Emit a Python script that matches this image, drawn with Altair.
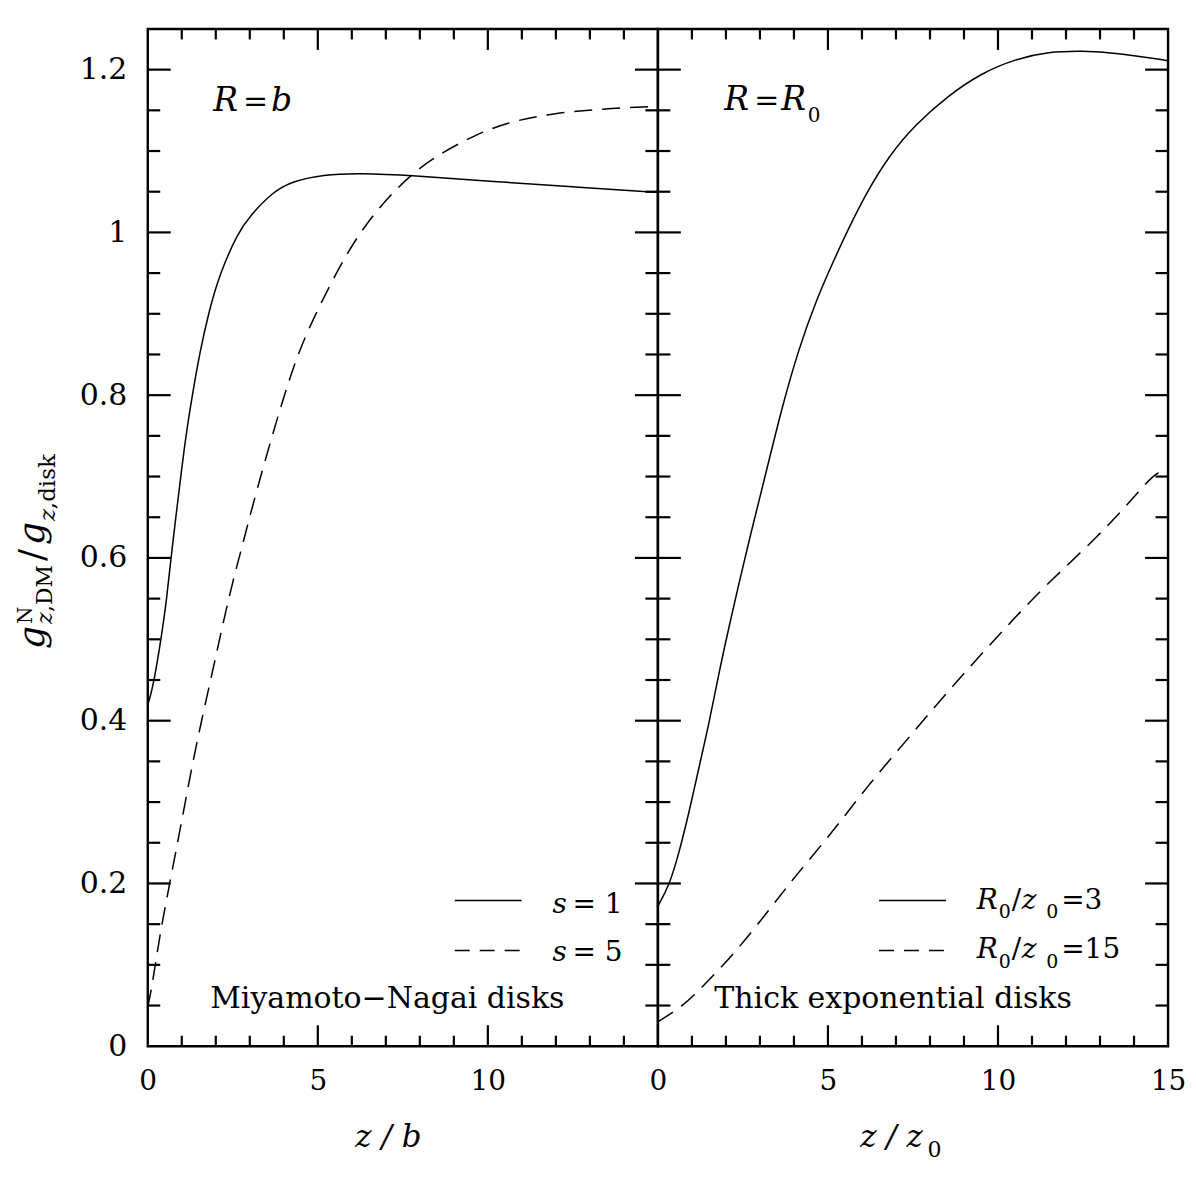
import altair as alt
import pandas as pd

FONT = "DejaVu Serif"

# left panel: Miyamoto-Nagai disks at R = b
mn_x_s1 = [0, 0.07, 0.19, 0.39, 0.56, 0.68, 0.97, 1.12, 1.31, 1.52, 1.78, 2.12, 2.66, 3.0, 3.68,
           4.27, 5.15, 6.22, 7.78, 10.03, 12.47, 15]
mn_y_s1 = [0.42, 0.429, 0.45, 0.50, 0.55, 0.60, 0.70, 0.75, 0.80, 0.85, 0.90, 0.95, 1.0, 1.02, 1.05,
           1.063, 1.071, 1.073, 1.070, 1.063, 1.056, 1.049]
mn_x_s5 = [0, 0.12, 0.37, 0.71, 1.05, 1.34, 1.68, 2.03, 2.37, 2.76, 3.20, 3.78, 4.37, 4.95, 5.44,
           6.03, 6.81, 7.78, 8.57, 9.54, 10.52, 11.98, 13.45, 15]
mn_y_s5 = [0.048, 0.072, 0.141, 0.214, 0.288, 0.353, 0.419, 0.484, 0.550, 0.612, 0.683, 0.768, 0.848,
           0.901, 0.942, 0.987, 1.032, 1.073, 1.096, 1.118, 1.135, 1.147, 1.152, 1.155]

# right panel: thick exponential disks at R = R0
te_x_r3 = [0, 0.34, 0.63, 0.92, 1.22, 1.51, 1.80, 2.10, 2.39, 2.69, 3.18, 3.66, 4.15, 4.64, 5.13,
           5.62, 6.11, 6.79, 7.58, 8.56, 9.53, 10.51, 11.49, 12.47, 13.45, 15]
te_y_r3 = [0.172, 0.198, 0.239, 0.288, 0.345, 0.398, 0.460, 0.517, 0.570, 0.623, 0.705, 0.787, 0.858,
           0.915, 0.962, 1.006, 1.047, 1.094, 1.133, 1.169, 1.196, 1.213, 1.222, 1.223, 1.221, 1.211]
te_x_r15 = [0, 0.73, 1.31, 2.30, 3.37, 4.06, 5.13, 6.11, 7.19, 8.26, 9.34, 10.41, 11.49, 12.86,
            14.04, 14.57, 15]
te_y_r15 = [0.030, 0.049, 0.073, 0.116, 0.173, 0.210, 0.263, 0.317, 0.370, 0.423, 0.474, 0.523,
            0.570, 0.623, 0.676, 0.703, 0.710]

# tick positions and labels
x_labels_left = [0, 5, 10]
x_labels_right = [0, 5, 10, 15]
y_labels = [0, 0.2, 0.4, 0.6, 0.8, 1, 1.2]
x_major = [5, 10]
x_minor = [1, 2, 3, 4, 6, 7, 8, 9, 11, 12, 13, 14]
y_major = [0.2, 0.4, 0.6, 0.8, 1.0, 1.2]
y_minor = [0.05, 0.1, 0.15, 0.25, 0.3, 0.35, 0.45, 0.5, 0.55, 0.65, 0.7, 0.75, 0.85, 0.9, 0.95,
           1.05, 1.1, 1.15]

W, H = 511, 1019
xs = alt.Scale(domain=[0, 15], nice=False, zero=False)
ys = alt.Scale(domain=[0, 1.25], nice=False, zero=False)
ONE = alt.Data(values=[{}])


def curve(xv, yv, dash, x_ax, y_ax):
    df = pd.DataFrame({"x": xv, "y": yv})
    kw = dict(color="black", strokeWidth=1.5, interpolate="basis")
    if dash:
        kw["strokeDash"] = dash
    return alt.Chart(df).mark_line(**kw).encode(
        x=alt.X("x:Q", scale=xs, axis=x_ax),
        y=alt.Y("y:Q", scale=ys, axis=y_ax),
    )


def ticks(x_ax, y_ax):
    out = []
    for vals, n in [(x_major, 21), (x_minor, 10.5)]:
        base = alt.Chart(pd.DataFrame({"v": vals})).mark_rule(color="black", strokeWidth=2.2)
        out.append(base.encode(x=alt.X("v:Q", scale=xs, axis=x_ax), y=alt.value(H), y2=alt.value(H - n)))
        out.append(base.encode(x=alt.X("v:Q", scale=xs, axis=x_ax), y=alt.value(0), y2=alt.value(n)))
    for vals, n in [(y_major, 23), (y_minor, 12.5)]:
        base = alt.Chart(pd.DataFrame({"v": vals})).mark_rule(color="black", strokeWidth=2.2)
        out.append(base.encode(y=alt.Y("v:Q", scale=ys, axis=y_ax), x=alt.value(0), x2=alt.value(n)))
        out.append(base.encode(y=alt.Y("v:Q", scale=ys, axis=y_ax), x=alt.value(W), x2=alt.value(W - n)))
    return out


def txt(s, x, y, size, italic=False, angle=0):
    kw = dict(text=s, font=FONT, fontSize=size, align="left", baseline="alphabetic", color="black")
    if italic:
        kw["fontStyle"] = "italic"
    if angle:
        kw["angle"] = angle
    return alt.Chart(ONE).mark_text(**kw).encode(x=alt.value(x), y=alt.value(y))


def sample(x1, x2, y, dash=None):
    kw = dict(color="black", strokeWidth=1.5)
    if dash:
        kw["strokeDash"] = dash
    return alt.Chart(ONE).mark_rule(**kw).encode(x=alt.value(x1), x2=alt.value(x2), y=alt.value(y))


def x_axis(values, title, tx):
    return alt.Axis(values=values, format="~g", ticks=False, tickSize=0, domain=False, grid=False,
                    labelFont=FONT, labelFontSize=28, labelColor="black", labelPadding=21,
                    labelFlush=False, labelOverlap=False,
                    title=title, titleFont=FONT, titleFontSize=31, titleFontStyle="italic",
                    titleFontWeight="normal", titleColor="black", titleX=tx, titleY=100,
                    titleBaseline="alphabetic")


y_axis = alt.Axis(values=y_labels, format="~g", ticks=False, tickSize=0, domain=False, grid=False,
                  labelFont=FONT, labelFontSize=30, labelColor="black", labelPadding=21,
                  labelFlush=False, labelOverlap=False, title=None)

x_axis_left = x_axis(x_labels_left, "z / b", 240.5)
x_axis_right = x_axis(x_labels_right, "z / z", 233.5)

DASH = [18, 10]

left = alt.layer(
    curve(mn_x_s1, mn_y_s1, None, x_axis_left, y_axis),
    curve(mn_x_s5, mn_y_s5, DASH, x_axis_left, y_axis),
    *ticks(x_axis_left, y_axis),
    txt("R", 65.5, 82, 33, italic=True),
    txt("=", 95.5, 82, 30),
    txt("b", 123.5, 82, 33, italic=True),
    sample(307.5, 374.5, 873),
    sample(307.5, 374.5, 923, [15, 10]),
    txt("s", 405.5, 886, 28, italic=True),
    txt("= 1", 425.5, 886, 28),
    txt("s", 405.5, 934, 28, italic=True),
    txt("= 5", 425.5, 934, 28),
    txt("Miyamoto\u2212Nagai disks", 62.5, 981, 30),
    # rotated y-axis title  g^N_{z,DM} / g_{z,disk}
    txt("g", -104, 621, 36, italic=True, angle=270),
    txt("N", -116, 596, 20, angle=270),
    txt("z", -96, 596, 22, italic=True, angle=270),
    txt(",DM", -96, 584, 22, angle=270),
    txt("/", -104, 533, 36, angle=270),
    txt("g", -104, 517, 36, italic=True, angle=270),
    txt("z", -93, 493, 23, italic=True, angle=270),
    txt(",disk", -93, 481, 23, angle=270),
).properties(width=W, height=H)

right = alt.layer(
    curve(te_x_r3, te_y_r3, None, x_axis_right, None),
    curve(te_x_r15, te_y_r15, DASH, x_axis_right, None),
    *ticks(x_axis_right, None),
    txt("0", 270, H + 111, 22),
    txt("R", 66.5, 81, 33, italic=True),
    txt("=", 96.5, 81, 30),
    txt("R", 123.5, 81, 33, italic=True),
    txt("0", 150, 93, 20),
    sample(221.5, 288.5, 873),
    sample(221.5, 288.5, 923, [15, 10]),
    txt("R", 319.5, 882, 28, italic=True),
    txt("0", 341.5, 891, 19),
    txt("/", 354.5, 882, 28),
    txt("z", 364.5, 882, 28, italic=True),
    txt("0", 389, 891, 19),
    txt("=3", 404, 882, 28),
    txt("R", 319.5, 931, 28, italic=True),
    txt("0", 341.5, 941, 19),
    txt("/", 354.5, 931, 28),
    txt("z", 364.5, 931, 28, italic=True),
    txt("0", 389, 941, 19),
    txt("=15", 404, 931, 28),
    txt("Thick exponential disks", 56.5, 981, 30),
).properties(width=W, height=H)

chart = alt.hconcat(left, right, spacing=0, bounds="flush").properties(
    padding={"left": 5, "top": 17, "right": 0, "bottom": 4},
    background="white",
).configure_view(stroke="black", strokeWidth=2.4)

chart.save("out.html", embed_options={"renderer": "svg", "actions": False})
